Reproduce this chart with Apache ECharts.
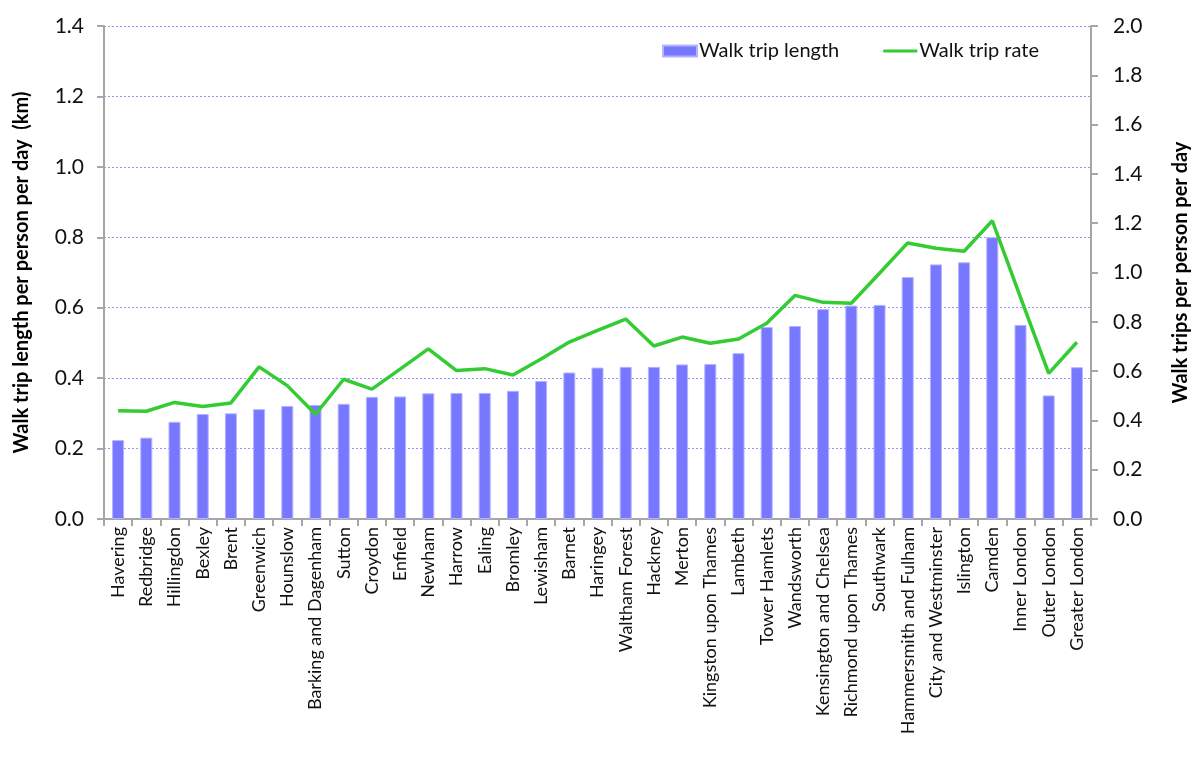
<!DOCTYPE html>
<html>
<head>
<meta charset="utf-8">
<script src="https://cdn.jsdelivr.net/npm/echarts@6/dist/echarts.min.js"></script>
<style>
html,body{margin:0;padding:0;background:#fff;}
#c{width:1195px;height:775px;}
</style>
</head>
<body>
<div id="c"></div>
<script>
const categories = ["Havering","Redbridge","Hillingdon","Bexley","Brent","Greenwich","Hounslow","Barking and Dagenham","Sutton","Croydon","Enfield","Newham","Harrow","Ealing","Bromley","Lewisham","Barnet","Haringey","Waltham Forest","Hackney","Merton","Kingston upon Thames","Lambeth","Tower Hamlets","Wandsworth","Kensington and Chelsea","Richmond upon Thames","Southwark","Hammersmith and Fulham","City and Westminster","Islington","Camden","Inner London","Outer London","Greater London"];
const walkTripLength = [0.224,0.231,0.276,0.298,0.300,0.312,0.321,0.324,0.327,0.347,0.348,0.357,0.358,0.358,0.364,0.392,0.416,0.430,0.432,0.432,0.439,0.440,0.471,0.545,0.548,0.596,0.606,0.608,0.687,0.723,0.729,0.800,0.551,0.351,0.431];
const walkTripRate = [0.439,0.437,0.473,0.456,0.471,0.617,0.541,0.425,0.567,0.527,0.608,0.690,0.602,0.610,0.584,0.649,0.718,0.765,0.811,0.702,0.738,0.713,0.730,0.794,0.907,0.879,0.875,0.997,1.120,1.098,1.086,1.210,0.899,0.591,0.717];
const leftTicks = {min:0, max:1.4, interval:0.2};
const rightTicks = {min:0, max:2.0, interval:0.2};

const FONT = 'Lato';
const chart = echarts.init(document.getElementById('c'));
chart.setOption({
  animation:false,
  backgroundColor:'#ffffff',
  textStyle:{fontFamily:FONT, color:'#000'},
  legend:{
    top:36, left:657,
    itemGap:44,
    itemWidth:34, itemHeight:11,
    textStyle:{fontFamily:FONT, fontSize:20, color:'#111', padding:[0,0,0,-3]},
    data:[
      {name:'Walk trip length', icon:'rect'},
      {name:'Walk trip rate', icon:'path://M0,0 M0,11 M0,4 L34,4 L34,7 L0,7 Z', itemStyle:{color:'#33cc33'}}
    ]
  },
  grid:{left:104, right:104, top:26, bottom:256, containLabel:false, outerBoundsMode:'none'},
  xAxis:{
    type:'category',
    data:categories,
    axisLine:{lineStyle:{color:'#a6a6a6', width:2}},
    axisTick:{show:true, length:7, alignWithLabel:false, lineStyle:{color:'#a6a6a6', width:2}},
    axisLabel:{rotate:90, interval:0, margin:8, fontSize:18, color:'#111', fontFamily:FONT}
  },
  yAxis:[{
    type:'value', position:'left',
    min:leftTicks.min, max:leftTicks.max, interval:leftTicks.interval,
    name:'Walk trip length per person per day  (km)',
    nameLocation:'middle', nameGap:72, nameRotate:90,
    nameTextStyle:{fontSize:20, fontWeight:'bold', color:'#000', fontFamily:FONT},
    axisLine:{show:true, lineStyle:{color:'#a6a6a6', width:2}},
    axisTick:{show:true, inside:false, length:7, lineStyle:{color:'#a6a6a6', width:2}},
    axisLabel:{formatter:v=>v.toFixed(1), fontSize:21, color:'#111', margin:20, fontFamily:FONT},
    splitLine:{show:true, lineStyle:{color:'#9f8fff', type:[2,2], width:1}}
  },{
    type:'value', position:'right',
    min:rightTicks.min, max:rightTicks.max, interval:rightTicks.interval,
    name:'Walk trips per person per day',
    nameLocation:'middle', nameGap:80, nameRotate:90,
    nameTextStyle:{fontSize:20, fontWeight:'bold', color:'#000', fontFamily:FONT},
    axisLine:{show:true, lineStyle:{color:'#a6a6a6', width:2}},
    axisTick:{show:true, inside:false, length:7, lineStyle:{color:'#a6a6a6', width:2}},
    axisLabel:{formatter:v=>v.toFixed(1), fontSize:21, color:'#111', margin:22, fontFamily:FONT},
    splitLine:{show:false}
  }],
  series:[{
    name:'Walk trip length', type:'bar', yAxisIndex:0,
    data:walkTripLength, barWidth:12,
    itemStyle:{color:'#7777ff', borderColor:'#b3b3ff', borderWidth:1}
  },{
    name:'Walk trip rate', type:'line', yAxisIndex:1,
    data:walkTripRate, symbol:'none',
    lineStyle:{color:'#33cc33', width:3.5},
    itemStyle:{color:'#33cc33'}
  }]
});
</script>
</body>
</html>
